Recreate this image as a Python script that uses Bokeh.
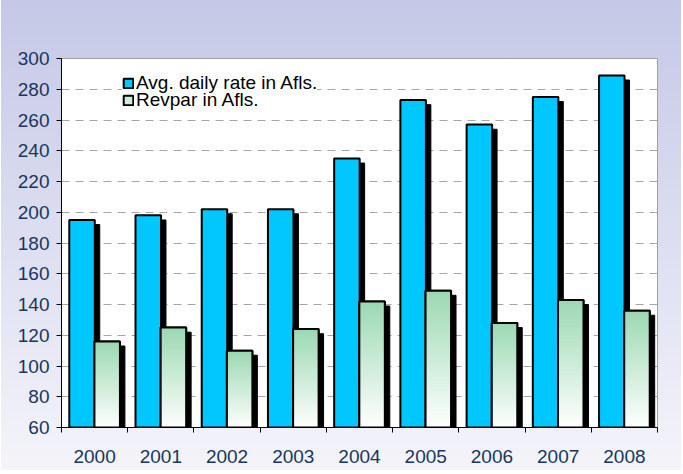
from bokeh.plotting import figure
from bokeh.models import FixedTicker, Legend, LegendItem
from bokeh.embed import file_html
from bokeh.resources import INLINE

# ---- data ----
years = ["2000", "2001", "2002", "2003", "2004", "2005", "2006", "2007", "2008"]
avg_daily_rate = [195, 198, 202, 202, 235, 273, 257, 275, 289]
revpar = [116, 125, 110, 124, 142, 149, 128, 143, 136]
y_ticks = [60, 80, 100, 120, 140, 160, 180, 200, 220, 240, 260, 280, 300]
series_names = ["Avg. daily rate in Afls.", "Revpar in Afls."]

# ---- style ----
FONT = "Liberation Sans"
BLUE = "#00c8ff"
GREEN_TOP = (155, 217, 178)
GREEN_BOT = (255, 255, 255)
LABEL_COLOR = "#17375e"
BASE = y_ticks[0]

n = len(years)
centers = [i + 0.5 for i in range(n)]
dodge = 0.19
bar_w = 0.385
sh_dx = 0.075
sh_dy = 3.0

blue_x = [c - dodge for c in centers]
green_x = [c + dodge for c in centers]

p = figure(width=680, height=470, x_range=(0, n), y_range=(y_ticks[0], y_ticks[-1]),
           output_backend="svg", toolbar_location=None,
           min_border_left=60, min_border_right=24, min_border_top=58, min_border_bottom=43,
           margin=(0, 0, 0, 1))
p.border_fill_color = None
p.styles = {"background": "linear-gradient(to bottom, #c5c8e6 0%, #dcdef0 50%, #f4f4fa 100%)"}
p.background_fill_color = "white"
p.outline_line_color = "#a0a0a0"
p.outline_line_width = 1

# shadows
p.vbar(x=[x + sh_dx for x in blue_x], top=[v - sh_dy for v in avg_daily_rate], bottom=BASE,
       width=bar_w, fill_color="black", line_color="black", line_width=1)
p.vbar(x=[x + sh_dx for x in green_x], top=[v - sh_dy for v in revpar], bottom=BASE,
       width=bar_w, fill_color="black", line_color="black", line_width=1)

# blue bars
blue_r = p.vbar(x=blue_x, top=avg_daily_rate, bottom=BASE, width=bar_w,
                fill_color=BLUE, line_color="black", line_width=2)

# green base (also used as legend glyph), covered by gradient slices
green_r = p.vbar(x=green_x, top=revpar, bottom=BASE, width=bar_w,
                 fill_color="#cfeeda", line_color="black", line_width=2)

# green gradient bars (slices)
N = 40
sx, sb, st, sc = [], [], [], []
for x, v in zip(green_x, revpar):
    for k in range(N):
        b = BASE + (v - BASE) * k / N
        t = BASE + (v - BASE) * (k + 1) / N
        f = (k + 0.5) / N
        col = tuple(int(round(GREEN_BOT[j] + (GREEN_TOP[j] - GREEN_BOT[j]) * f)) for j in range(3))
        sx.append(x); sb.append(max(BASE, b - 0.6)); st.append(t); sc.append("#%02x%02x%02x" % col)
p.vbar(x=sx, top=st, bottom=sb, width=bar_w, fill_color=sc, line_color=None)
p.vbar(x=green_x, top=revpar, bottom=BASE, width=bar_w, fill_color=None,
       line_color="black", line_width=2)


def make_legend(item, loc, bg_alpha):
    lg = Legend(items=[item], location=loc, orientation="vertical")
    lg.padding = 0
    lg.margin = 0
    lg.spacing = 0
    lg.label_height = 17
    lg.glyph_height = 12
    lg.glyph_width = 12
    lg.label_standoff = 2
    lg.label_text_font = FONT
    lg.label_text_font_size = "19px"
    lg.label_text_color = "black"
    lg.background_fill_color = "white"
    lg.background_fill_alpha = bg_alpha
    lg.border_line_color = None
    return lg


p.add_layout(make_legend(LegendItem(label=series_names[0], renderers=[blue_r]), (61, 333), 1))
p.add_layout(make_legend(LegendItem(label=series_names[1], renderers=[green_r]), (61, 316), 0))

# axes
p.xaxis.ticker = FixedTicker(ticks=centers, minor_ticks=list(range(n + 1)))
p.xaxis.major_label_overrides = {c: y for c, y in zip(centers, years)}
p.xaxis.major_tick_line_color = None
p.xaxis.major_tick_out = 0
p.xaxis.minor_tick_line_color = "black"
p.xaxis.minor_tick_out = 5
p.xaxis.minor_tick_in = 0
p.xaxis.major_label_standoff = 17

p.yaxis.ticker = FixedTicker(ticks=y_ticks)
p.yaxis.major_tick_out = 5
p.yaxis.major_tick_in = 0
p.yaxis.minor_tick_line_color = None
p.yaxis.major_label_standoff = 7

for ax in (p.xaxis, p.yaxis):
    ax.axis_line_color = "black"
    ax.axis_line_width = 1
    ax.major_label_text_font = FONT
    ax.major_label_text_font_size = "19px"
    ax.major_label_text_color = LABEL_COLOR

p.xgrid.grid_line_color = None
p.ygrid.grid_line_color = "#a6a6a6"
p.ygrid.grid_line_dash = "8 6"
p.ygrid.grid_line_width = 1

open("out.html", "w").write(file_html(p, INLINE))
